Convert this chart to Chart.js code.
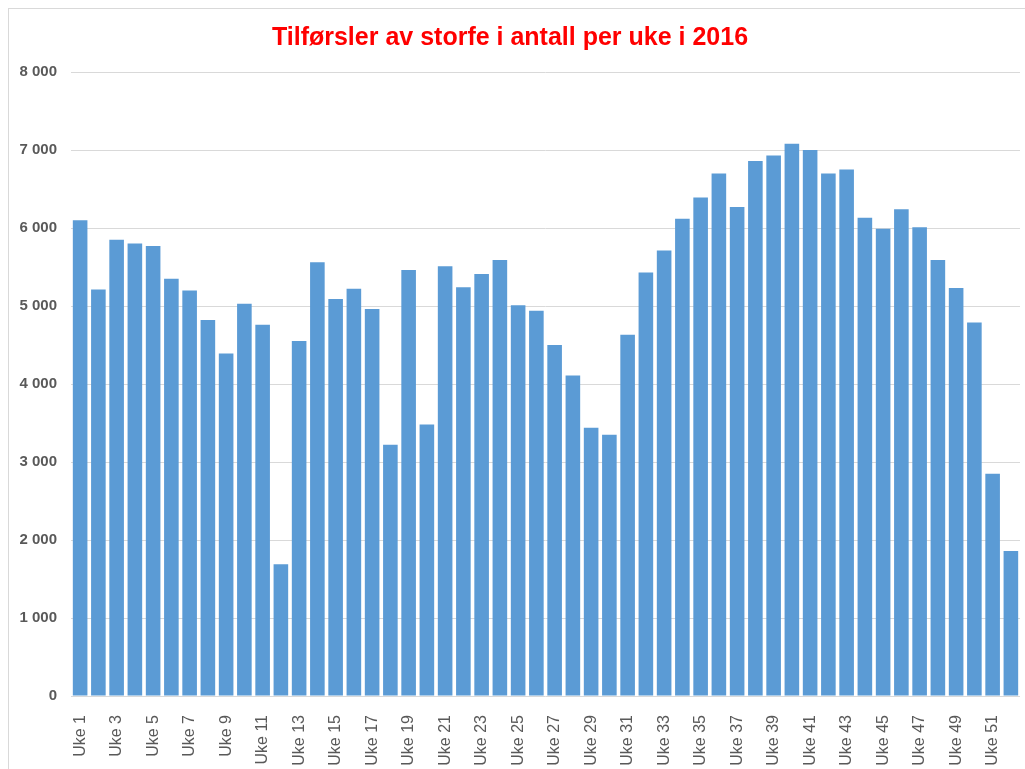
<!DOCTYPE html>
<html lang="no">
<head>
  <meta charset="UTF-8" />
  <title>Tilførsler av storfe</title>
  <script src="https://cdn.jsdelivr.net/npm/chart.js"></script>
  <style>
    body { margin: 0; background: #fff; }
    #wrap { position: relative; width: 1025px; height: 769px; overflow: hidden; }
    #frame { position: absolute; left: 8px; top: 8px; width: 1100px; height: 900px; border: 1px solid #d9d9d9; }
    #chart { position: absolute; left: 0; top: 0; }
  </style>
</head>
<body>
  <div id="wrap">
    <div id="frame"></div>
    <canvas id="chart" width="1025" height="769"></canvas>
  </div>

  <script>
    const weeks = [];
    for (let i = 1; i <= 52; i++) weeks.push('Uke ' + i);

    const storfe = [
      6100, 5210, 5850, 5800, 5770, 5350, 5200, 4820, 4390, 5030,
      4760, 1690, 4550, 5560, 5090, 5220, 4960, 3220, 5460, 3480,
      5510, 5240, 5410, 5590, 5010, 4940, 4500, 4110, 3440, 3350,
      4630, 5430, 5710, 6120, 6390, 6700, 6270, 6860, 6930, 7080,
      7000, 6700, 6750, 6130, 5990, 6240, 6010, 5590, 5230, 4790,
      2850, 1860
    ];

    const yMax = 8000;
    const yStep = 1000;

    function fmt(v) {
      return String(v).replace(/\B(?=(\d{3})+(?!\d))/g, ' ');
    }

    new Chart(document.getElementById('chart'), {
      type: 'bar',
      data: {
        labels: weeks,
        datasets: [{
          label: 'Tilførsler',
          data: storfe,
          backgroundColor: '#5B9BD5',
          barPercentage: 0.8,
          categoryPercentage: 1.0
        }]
      },
      options: {
        responsive: false,
        animation: false,
        layout: { padding: { left: 0, right: 5, top: 0, bottom: 0 } },
        plugins: {
          legend: { display: false },
          tooltip: { enabled: false },
          title: {
            display: true,
            text: 'Tilførsler av storfe i antall per uke i 2016',
            color: '#ff0000',
            font: { family: "'Liberation Sans', Arial, sans-serif", size: 25, weight: 'bold' },
            padding: { top: 23, bottom: 19 }
          }
        },
        scales: {
          x: {
            grid: { display: false },
            border: { display: false },
            ticks: {
              autoSkip: false,
              maxRotation: 90,
              minRotation: 90,
              padding: 11,
              color: '#595959',
              font: { family: "'Liberation Sans', Arial, sans-serif", size: 16 },
              callback: function (val, i) { return i % 2 === 0 ? this.getLabelForValue(val) : ''; }
            },
            afterFit: function (axis) {
              axis.height = 73;
              axis.paddingLeft = 0;
              axis.paddingRight = 0;
            }
          },
          y: {
            min: 0,
            max: yMax,
            grid: { color: '#d9d9d9', drawTicks: false },
            border: { display: false },
            ticks: {
              stepSize: yStep,
              padding: 14,
              color: '#595959',
              font: { family: "'Liberation Sans', Arial, sans-serif", size: 15, weight: 'bold' },
              callback: fmt
            },
            afterFit: function (axis) { axis.width = 71; }
          }
        }
      }
    });
  </script>
</body>
</html>
